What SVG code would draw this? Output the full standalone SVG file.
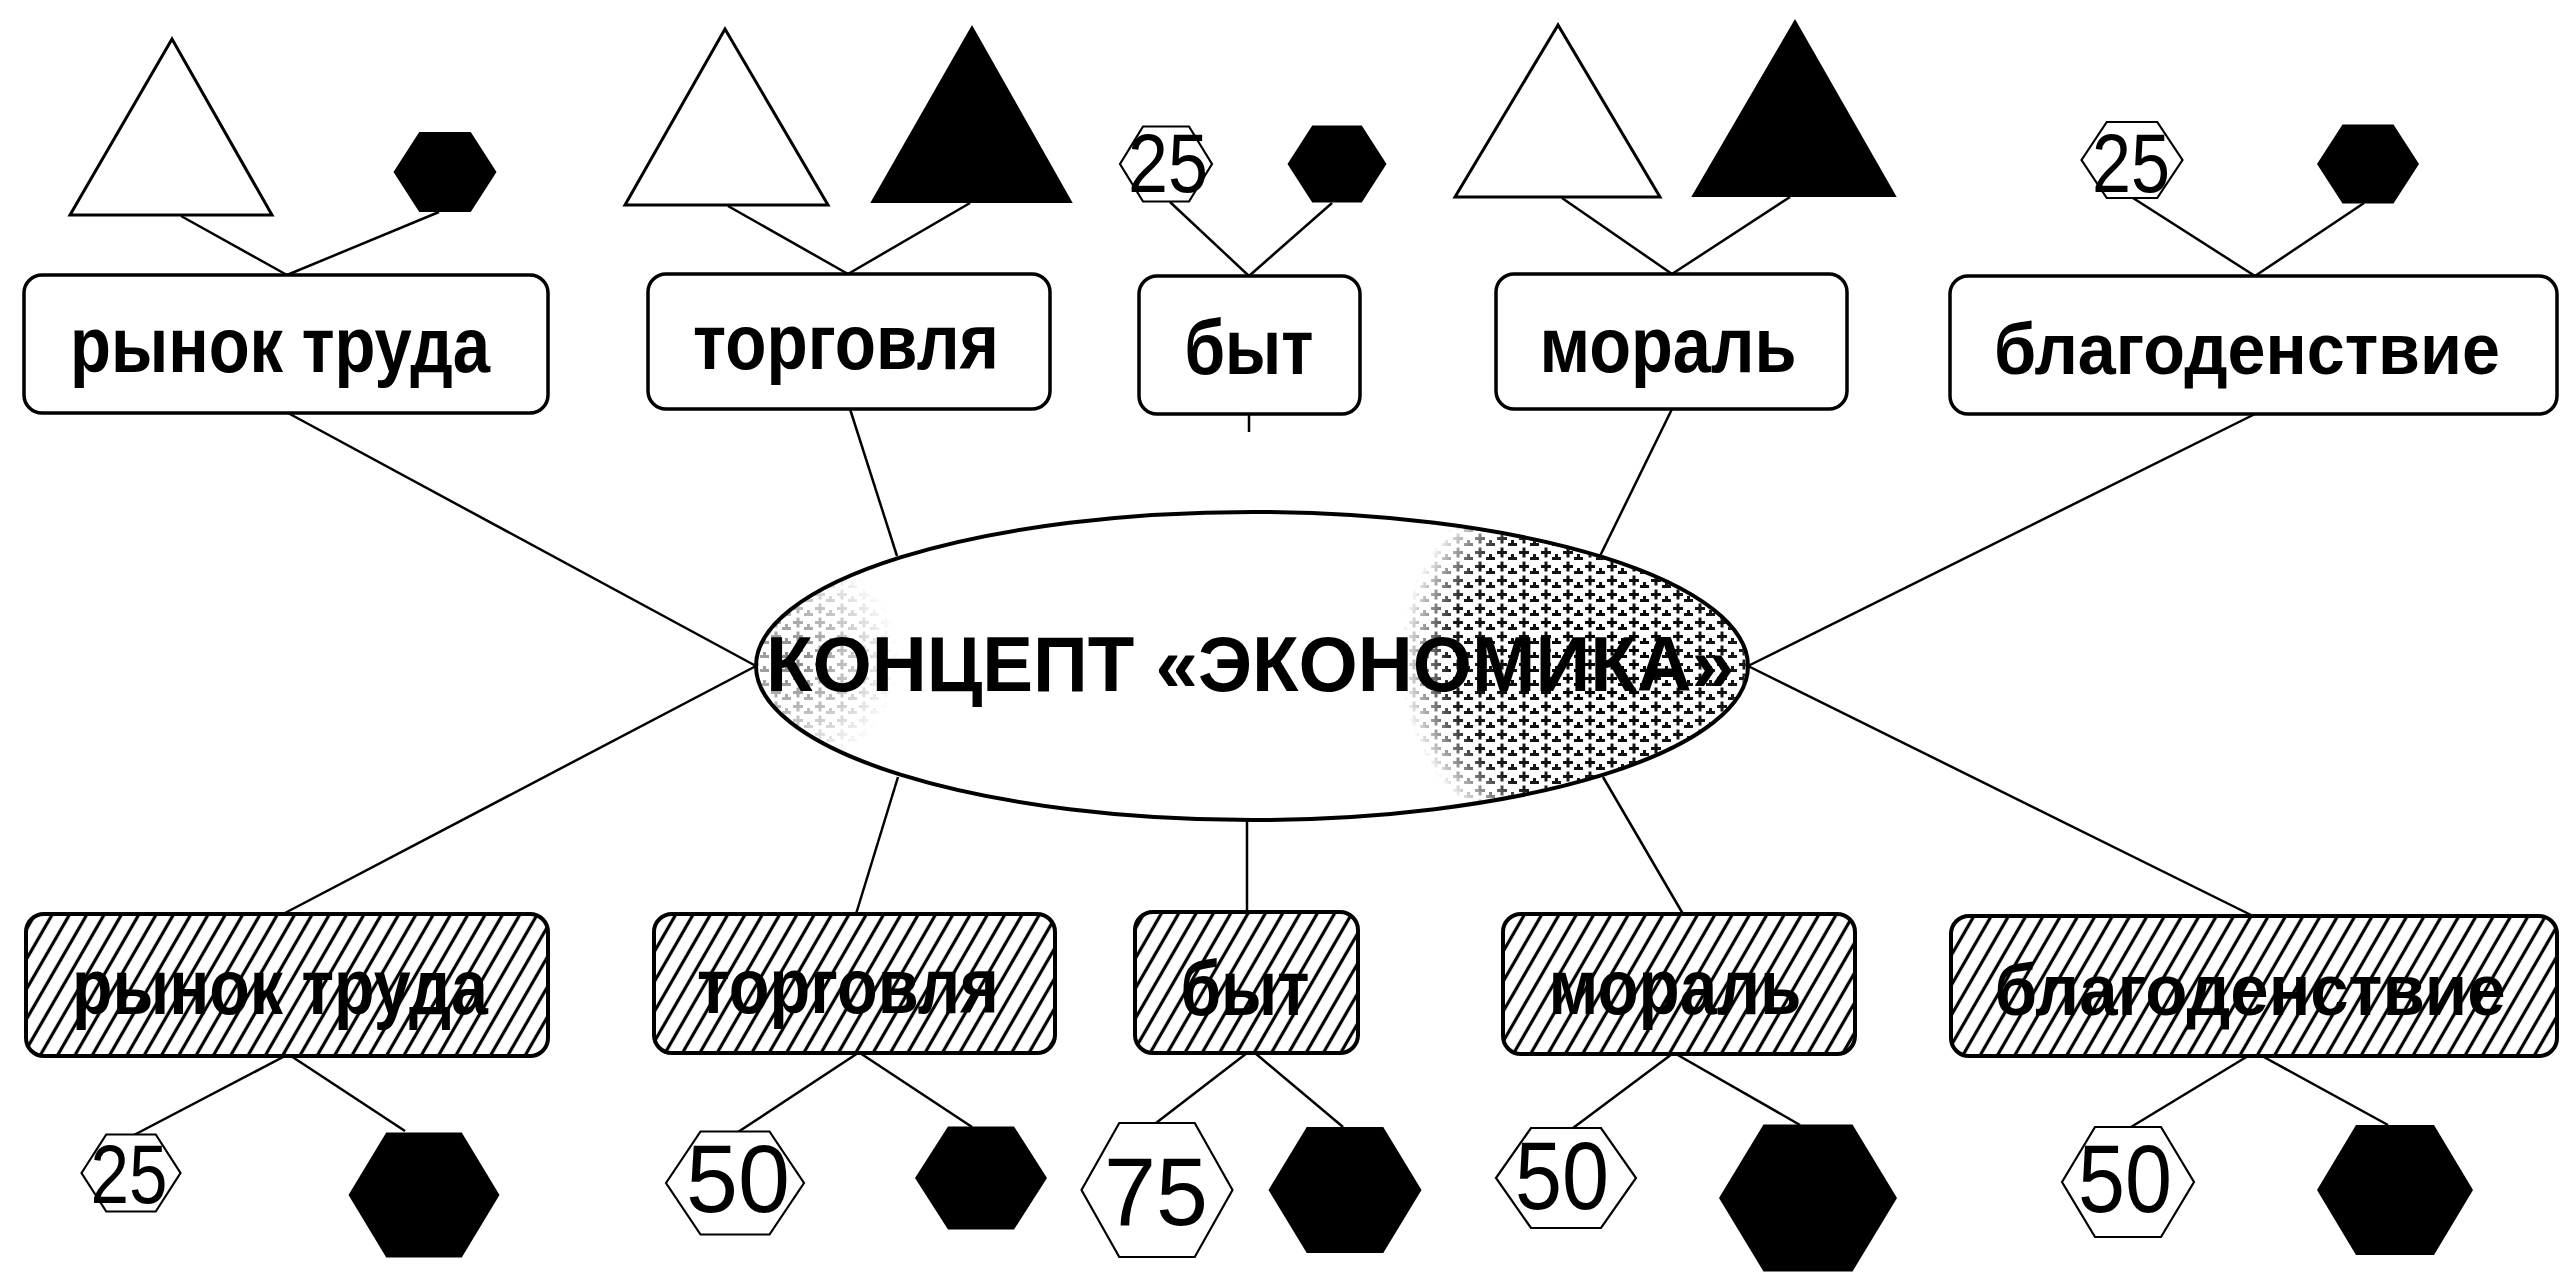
<svg xmlns="http://www.w3.org/2000/svg" width="2562" height="1278" viewBox="0 0 2562 1278">
<style>
.box{fill:#fff;stroke:#000;stroke-width:3.5}
.hbox{fill:#fff;stroke:#000;stroke-width:4}
.hatch{fill:url(#hatch);stroke:none}
.lbl{font-family:"Liberation Sans",Arial,sans-serif;font-weight:bold;font-size:78px;text-anchor:middle;fill:#000}
.long{font-size:72px}
.num{font-family:"Liberation Sans",Arial,sans-serif;font-size:84px;text-anchor:middle;fill:#000}
.big{font-size:96px}
.title{font-family:"Liberation Sans",Arial,sans-serif;font-weight:bold;font-size:78px;text-anchor:middle;fill:#000}
.edge{stroke:#000;stroke-width:2.5;fill:none}
.tw{fill:#fff;stroke:#000;stroke-width:3;stroke-linejoin:miter}
.tb{fill:#000;stroke:#000;stroke-width:2}
.hb{fill:#000}
.hw{fill:#fff;stroke:#000;stroke-width:2.2}
</style>
<defs>
<pattern id="hatch" patternUnits="userSpaceOnUse" width="15" height="15" patternTransform="rotate(30)">
<line x1="7.5" y1="0" x2="7.5" y2="15" stroke="#000" stroke-width="3.2"/>
</pattern>
<pattern id="stip" patternUnits="userSpaceOnUse" width="22" height="14">
<rect x="1" y="5" width="10" height="3" fill="#000"/>
<rect x="4.5" y="1.5" width="3" height="10" fill="#000"/>
<rect x="12" y="11" width="9" height="3" fill="#000"/>
<rect x="15" y="8" width="3" height="6" fill="#000"/>
</pattern>
<radialGradient id="gR" gradientUnits="userSpaceOnUse" cx="1600" cy="660" r="200">
<stop offset="0" stop-color="#fff" stop-opacity="1"/>
<stop offset="0.75" stop-color="#fff" stop-opacity="0.9"/>
<stop offset="1" stop-color="#fff" stop-opacity="0"/>
</radialGradient>
<radialGradient id="gL" gradientUnits="userSpaceOnUse" cx="790" cy="660" r="110">
<stop offset="0" stop-color="#fff" stop-opacity="0.5"/>
<stop offset="1" stop-color="#fff" stop-opacity="0"/>
</radialGradient>
<mask id="stipMask" maskUnits="userSpaceOnUse" x="0" y="0" width="2562" height="1278">
<rect x="0" y="0" width="2562" height="1278" fill="#000"/>
<rect x="1350" y="480" width="420" height="360" fill="url(#gR)"/>
<rect x="700" y="520" width="220" height="300" fill="url(#gL)"/>
</mask>
<clipPath id="ellClip"><ellipse cx="1252" cy="666" rx="494" ry="152"/></clipPath>
</defs>
<rect x="0" y="0" width="2562" height="1278" fill="#fff"/>

<g id="connectors">
<line class="edge" x1="181" y1="216" x2="287" y2="275"/>
<line class="edge" x1="439" y1="212" x2="287" y2="275"/>
<line class="edge" x1="728" y1="206" x2="848" y2="274"/>
<line class="edge" x1="970" y1="203" x2="848" y2="274"/>
<line class="edge" x1="1170" y1="202" x2="1249" y2="276"/>
<line class="edge" x1="1332" y1="203" x2="1249" y2="276"/>
<line class="edge" x1="1562" y1="198" x2="1672" y2="274"/>
<line class="edge" x1="1790" y1="197" x2="1672" y2="274"/>
<line class="edge" x1="2133" y1="198" x2="2255" y2="276"/>
<line class="edge" x1="2364" y1="203" x2="2255" y2="276"/>
<line class="edge" x1="288" y1="413" x2="756" y2="666"/>
<line class="edge" x1="850" y1="409" x2="897" y2="556"/>
<line class="edge" x1="1249" y1="414" x2="1249" y2="432"/>
<line class="edge" x1="1672" y1="409" x2="1600" y2="556"/>
<line class="edge" x1="2255" y1="414" x2="1748" y2="666"/>
<line class="edge" x1="756" y1="666" x2="285" y2="913"/>
<line class="edge" x1="898" y1="777" x2="856" y2="914"/>
<line class="edge" x1="1247" y1="820" x2="1247" y2="912"/>
<line class="edge" x1="1603" y1="777" x2="1683" y2="914"/>
<line class="edge" x1="1748" y1="666" x2="2253" y2="916"/>
<line class="edge" x1="285" y1="1056" x2="134" y2="1135"/>
<line class="edge" x1="291" y1="1056" x2="405" y2="1131"/>
<line class="edge" x1="858" y1="1053" x2="738" y2="1132"/>
<line class="edge" x1="860" y1="1053" x2="972" y2="1127"/>
<line class="edge" x1="1247" y1="1053" x2="1156" y2="1123"/>
<line class="edge" x1="1255" y1="1053" x2="1343" y2="1127"/>
<line class="edge" x1="1672" y1="1054" x2="1573" y2="1128"/>
<line class="edge" x1="1676" y1="1054" x2="1800" y2="1125"/>
<line class="edge" x1="2248" y1="1056" x2="2131" y2="1127"/>
<line class="edge" x1="2262" y1="1056" x2="2388" y2="1125"/>
</g>

<g id="center">
<ellipse cx="1252" cy="666" rx="496" ry="154" fill="#fff" stroke="#000" stroke-width="4"/>
<g clip-path="url(#ellClip)"><rect x="700" y="500" width="1100" height="340" fill="url(#stip)" mask="url(#stipMask)"/></g>
<text class="title" x="1250" y="691" textLength="968" lengthAdjust="spacingAndGlyphs">КОНЦЕПТ «ЭКОНОМИКА»</text>
</g>

<g id="top-rynok">
<polygon class="tw" points="172,39 70,215 272,215"/>
<polygon class="hb" points="393.5,172 419.25,132 470.75,132 496.5,172 470.75,212 419.25,212"/>
<rect class="box" x="24" y="275" width="524" height="138" rx="18"/>
<text class="lbl" x="280" y="372" textLength="420" lengthAdjust="spacingAndGlyphs">рынок труда</text>
</g>
<g id="top-torgovlya">
<polygon class="tw" points="725,29 625,205 828,205"/>
<polygon class="tb" points="972,27 872,202 1071,202"/>
<rect class="box" x="648" y="274" width="402" height="135" rx="18"/>
<text class="lbl" x="846" y="369" textLength="306" lengthAdjust="spacingAndGlyphs">торговля</text>
</g>
<g id="top-byt">
<polygon class="hw" points="1120,164 1143,126.5 1189,126.5 1212,164 1189,201.5 1143,201.5"/>
<text class="num" x="1168" y="192" textLength="80" lengthAdjust="spacingAndGlyphs">25</text>
<polygon class="hb" points="1287.5,164 1312.25,125.5 1361.75,125.5 1386.5,164 1361.75,202.5 1312.25,202.5"/>
<rect class="box" x="1139" y="276" width="221" height="138" rx="18"/>
<text class="lbl" x="1249" y="374" textLength="129" lengthAdjust="spacingAndGlyphs">быт</text>
</g>
<g id="top-moral">
<polygon class="tw" points="1558,25 1455,197 1660,197"/>
<polygon class="tb" points="1795,21 1693,196 1895,196"/>
<rect class="box" x="1496" y="274" width="351" height="135" rx="18"/>
<text class="lbl" x="1668" y="372" textLength="257" lengthAdjust="spacingAndGlyphs">мораль</text>
</g>
<g id="top-blagodenstvie">
<polygon class="hw" points="2081.5,160 2106.75,122 2157.25,122 2182.5,160 2157.25,198 2106.75,198"/>
<text class="num" x="2131" y="192" textLength="78" lengthAdjust="spacingAndGlyphs">25</text>
<polygon class="hb" points="2317,164 2342.5,124.5 2393.5,124.5 2419,164 2393.5,203.5 2342.5,203.5"/>
<rect class="box" x="1950" y="276" width="607" height="138" rx="18"/>
<text class="lbl long" x="2247" y="374" textLength="506" lengthAdjust="spacingAndGlyphs">благоденствие</text>
</g>

<g id="bottom-rynok">
<rect class="hbox" x="26" y="914" width="522" height="142" rx="18"/>
<rect class="hatch" x="26" y="914" width="522" height="142" rx="18"/>
<text class="lbl" x="280" y="1014" textLength="416" lengthAdjust="spacingAndGlyphs">рынок труда</text>
<polygon class="hw" points="81.5,1173 106.25,1134.5 155.75,1134.5 180.5,1173 155.75,1211.5 106.25,1211.5"/>
<text class="num" x="129" y="1203" textLength="77" lengthAdjust="spacingAndGlyphs">25</text>
<polygon class="hb" points="348.5,1195 386.25,1132.5 461.75,1132.5 499.5,1195 461.75,1257.5 386.25,1257.5"/>
</g>
<g id="bottom-torgovlya">
<rect class="hbox" x="654" y="914" width="401" height="139" rx="18"/>
<rect class="hatch" x="654" y="914" width="401" height="139" rx="18"/>
<text class="lbl" x="848" y="1013" textLength="302" lengthAdjust="spacingAndGlyphs">торговля</text>
<polygon class="hw" points="666,1183 700.5,1131.5 769.5,1131.5 804,1183 769.5,1234.5 700.5,1234.5"/>
<text class="num big" x="738" y="1212" textLength="104" lengthAdjust="spacingAndGlyphs">50</text>
<polygon class="hb" points="915,1178 948,1126.5 1014,1126.5 1047,1178 1014,1229.5 948,1229.5"/>
</g>
<g id="bottom-byt">
<rect class="hbox" x="1135" y="912" width="223" height="141" rx="18"/>
<rect class="hatch" x="1135" y="912" width="223" height="141" rx="18"/>
<text class="lbl" x="1245" y="1015" textLength="129" lengthAdjust="spacingAndGlyphs">быт</text>
<polygon class="hw" points="1081.5,1190 1119.25,1123 1194.75,1123 1232.5,1190 1194.75,1257 1119.25,1257"/>
<text class="num big" x="1156" y="1225" textLength="104" lengthAdjust="spacingAndGlyphs">75</text>
<polygon class="hb" points="1268.5,1190 1306.75,1127 1383.25,1127 1421.5,1190 1383.25,1253 1306.75,1253"/>
</g>
<g id="bottom-moral">
<rect class="hbox" x="1503" y="914" width="352" height="140" rx="18"/>
<rect class="hatch" x="1503" y="914" width="352" height="140" rx="18"/>
<text class="lbl" x="1675" y="1014" textLength="253" lengthAdjust="spacingAndGlyphs">мораль</text>
<polygon class="hw" points="1496,1178 1531,1128 1601,1128 1636,1178 1601,1228 1531,1228"/>
<text class="num big" x="1562" y="1209" textLength="94" lengthAdjust="spacingAndGlyphs">50</text>
<polygon class="hb" points="1719,1198 1763.5,1124.5 1852.5,1124.5 1897,1198 1852.5,1271.5 1763.5,1271.5"/>
</g>
<g id="bottom-blagodenstvie">
<rect class="hbox" x="1951" y="916" width="606" height="140" rx="18"/>
<rect class="hatch" x="1951" y="916" width="606" height="140" rx="18"/>
<text class="lbl long" x="2250" y="1015" textLength="511" lengthAdjust="spacingAndGlyphs">благоденствие</text>
<polygon class="hw" points="2062,1182 2095,1127 2161,1127 2194,1182 2161,1237 2095,1237"/>
<text class="num big" x="2125" y="1212" textLength="94" lengthAdjust="spacingAndGlyphs">50</text>
<polygon class="hb" points="2317,1190 2356,1125 2434,1125 2473,1190 2434,1255 2356,1255"/>
</g>
</svg>
